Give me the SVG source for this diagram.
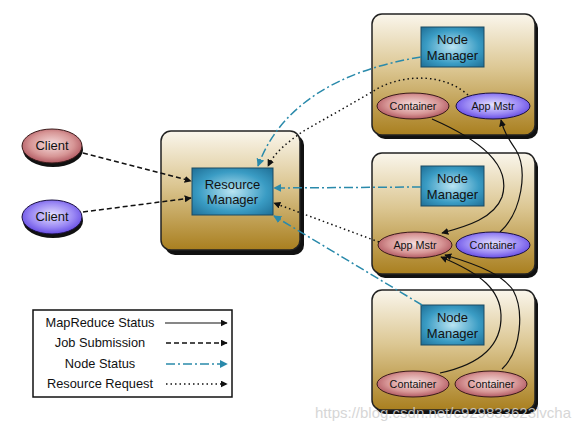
<svg xmlns="http://www.w3.org/2000/svg" width="587" height="430" viewBox="0 0 587 430">
<style>
text{font-family:"Liberation Sans",Arial,sans-serif;fill:#111;text-anchor:middle}
.outer{fill:url(#gold);stroke:#222;stroke-width:1.5}
.shadow{fill:#111}
.inner{fill:url(#blue);stroke:#1a4a62;stroke-width:1}
.red{fill:url(#red);stroke:#3a1a1a;stroke-width:1}
.pur{fill:url(#pur);stroke:#1a1040;stroke-width:1}
.t13{font-size:13px}
.t11{font-size:10.8px}
.tl{font-size:12.8px}
.solid{fill:none;stroke:#111;stroke-width:1.2;marker-end:url(#ak)}
.dash{fill:none;stroke:#111;stroke-width:1.5;stroke-dasharray:5 3;marker-end:url(#ak)}
.dot{fill:none;stroke:#111;stroke-width:1.5;stroke-dasharray:1.5 3;marker-end:url(#ak)}
.ddot{fill:none;stroke:#2a8aab;stroke-width:1.5;stroke-dasharray:9 3 2 3;marker-end:url(#ab)}
</style>
<defs>
<linearGradient id="gold" x1="0" y1="0" x2="0" y2="1">
<stop offset="0" stop-color="#faf6ec"/>
<stop offset="0.45" stop-color="#dcc793"/>
<stop offset="1" stop-color="#a97f1f"/>
</linearGradient>
<radialGradient id="blue" cx="0.5" cy="0.5" r="0.7">
<stop offset="0" stop-color="#b9e4f2"/>
<stop offset="0.6" stop-color="#3a9cc4"/>
<stop offset="1" stop-color="#1f6f96"/>
</radialGradient>
<radialGradient id="red" cx="0.5" cy="0.45" r="0.6">
<stop offset="0" stop-color="#f6dede"/>
<stop offset="0.6" stop-color="#d79696"/>
<stop offset="1" stop-color="#a84a55"/>
</radialGradient>
<radialGradient id="pur" cx="0.5" cy="0.45" r="0.6">
<stop offset="0" stop-color="#e6e2ff"/>
<stop offset="0.6" stop-color="#9a88f4"/>
<stop offset="1" stop-color="#5a3ee0"/>
</radialGradient>
<marker id="ak" viewBox="0 0 10 10" refX="9" refY="5" markerWidth="7" markerHeight="7" markerUnits="userSpaceOnUse" orient="auto"><path d="M0,0 L10,5 L0,10 z" fill="#111"/></marker>
<marker id="ab" viewBox="0 0 10 10" refX="9" refY="5" markerWidth="8" markerHeight="8" markerUnits="userSpaceOnUse" orient="auto"><path d="M0,0 L10,5 L0,10 z" fill="#2a8aab"/></marker>
</defs>

<g id="resource-manager">
<rect class="shadow" x="165" y="135" width="139" height="120" rx="10"/>
<rect class="outer" x="161" y="131" width="139" height="119" rx="10"/>
<rect class="inner" x="192" y="168" width="81" height="47"/>
<text class="t13" x="232.5" y="189">Resource</text>
<text class="t13" x="232.5" y="204">Manager</text>
</g>

<g id="node1">
<rect class="shadow" x="375" y="18" width="163" height="121" rx="10"/>
<rect class="outer" x="372" y="14" width="163" height="121" rx="10"/>
<rect class="inner" x="421" y="27" width="63" height="40"/>
<text class="t13" x="452.5" y="44">Node</text>
<text class="t13" x="452.5" y="60">Manager</text>
<ellipse class="red" cx="413" cy="106" rx="36" ry="13"/>
<text class="t11" x="413" y="110">Container</text>
<ellipse class="pur" cx="493" cy="106" rx="37" ry="13"/>
<text class="t11" x="493" y="110">App Mstr</text>
</g>

<g id="node2">
<rect class="shadow" x="375" y="157" width="163" height="121" rx="10"/>
<rect class="outer" x="372" y="153" width="163" height="121" rx="10"/>
<rect class="inner" x="421" y="166" width="63" height="40"/>
<text class="t13" x="452.5" y="183">Node</text>
<text class="t13" x="452.5" y="199">Manager</text>
<ellipse class="red" cx="415" cy="245" rx="37" ry="13"/>
<text class="t11" x="415" y="249">App Mstr</text>
<ellipse class="pur" cx="493" cy="245" rx="37" ry="13"/>
<text class="t11" x="493" y="249">Container</text>
</g>

<g id="node3">
<rect class="shadow" x="375" y="294" width="163" height="120" rx="10"/>
<rect class="outer" x="372" y="290" width="163" height="120" rx="10"/>
<rect class="inner" x="421" y="305" width="63" height="40"/>
<text class="t13" x="452.5" y="322">Node</text>
<text class="t13" x="452.5" y="338">Manager</text>
<ellipse class="red" cx="413" cy="384" rx="36" ry="13"/>
<text class="t11" x="413" y="388">Container</text>
<ellipse class="red" cx="491" cy="384" rx="36" ry="13"/>
<text class="t11" x="491" y="388">Container</text>
</g>

<g id="client1">
<ellipse class="shadow" cx="53" cy="150" rx="30" ry="17"/>
<ellipse class="red" cx="52" cy="146" rx="30" ry="17"/>
<text class="t13" x="52" y="150">Client</text>
</g>
<g id="client2">
<ellipse class="shadow" cx="53" cy="221" rx="30" ry="17"/>
<ellipse class="pur" cx="52" cy="217" rx="30" ry="17"/>
<text class="t13" x="52" y="221">Client</text>
</g>

<g id="connectors">
<path class="dash" d="M83,153 L191,181"/>
<path class="dash" d="M83,212 L191,198"/>
<path class="ddot" d="M421,57 C340,70 280,105 258,166"/>
<path class="dot" d="M468,95 C440,70 395,76 372,92 L302,132 C288,142 275,152 268,166"/>
<path class="ddot" d="M421,187 L274,188"/>
<path class="dot" d="M379,242 L274,203"/>
<path class="ddot" d="M422,305 L274,216"/>
<path class="solid" d="M432,119 C480,140 512,165 502,197 C494,218 468,226 442,233"/>
<path class="solid" d="M500,232 C522,212 528,170 516,150 C508,138 504,132 501,120"/>
<path class="solid" d="M440,373 C482,364 502,345 501,315 C500,290 482,274 441,257"/>
<path class="solid" d="M502,369 C522,350 524,310 513,290 C502,275 482,266 445,255"/>
</g>

<g id="legend">
<rect x="33" y="310" width="199" height="87" fill="#fff" stroke="#111" stroke-width="1.5"/>
<text class="tl" x="100" y="327">MapReduce Status</text>
<text class="tl" x="100" y="347">Job Submission</text>
<text class="tl" x="100" y="368">Node Status</text>
<text class="tl" x="100" y="388">Resource Request</text>
<path class="solid" d="M165,323 L227,323"/>
<path class="dash" d="M166,343 L227,343"/>
<path class="ddot" d="M166,364 L227,364"/>
<path class="dot" d="M166,384 L227,384"/>
</g>

<text x="443" y="418" style="font-size:15px;fill:#d0d0d0;opacity:0.85">https://blog.csdn.net/c929833623lvcha</text>
</svg>
